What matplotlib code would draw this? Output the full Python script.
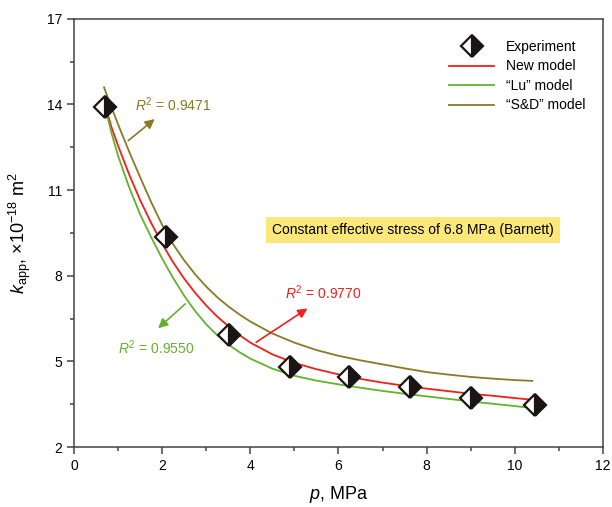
import matplotlib.pyplot as plt

plt.rcParams['font.family'] = ['Liberation Sans', 'DejaVu Sans']
plt.rcParams['mathtext.fontset'] = 'custom'
plt.rcParams['mathtext.rm'] = 'Liberation Sans'
plt.rcParams['mathtext.it'] = 'Liberation Sans:italic'

# experiment
p_exp = [0.70, 2.09, 3.52, 4.90, 6.24, 7.62, 9.00, 10.46]
k_exp = [13.92, 9.36, 5.93, 4.80, 4.45, 4.10, 3.72, 3.47]

# model curves
p_new = [0.70, 0.85, 1.0, 1.25, 1.5, 1.75, 2.0, 2.25, 2.5, 2.75, 3.0, 3.25, 3.5, 3.75,
         4.0, 4.5, 5.0, 5.5, 6.0, 6.5, 7.0, 7.5, 8.0, 8.5, 9.0, 9.5, 10.0, 10.4]
k_new = [14.0, 13.2, 12.55, 11.55, 10.65, 9.85, 9.12, 8.47, 7.9, 7.4, 6.96, 6.57, 6.24, 5.93,
         5.66, 5.25, 4.95, 4.73, 4.55, 4.39, 4.26, 4.15, 4.05, 3.96, 3.87, 3.80, 3.72, 3.66]

p_lu = [0.70, 0.85, 1.0, 1.25, 1.5, 1.75, 2.0, 2.25, 2.5, 2.75, 3.0, 3.25, 3.5, 3.75,
        4.0, 4.5, 5.0, 5.5, 6.0, 6.5, 7.0, 7.5, 8.0, 8.5, 9.0, 9.5, 10.0, 10.4]
k_lu = [13.95, 13.0, 12.2, 11.1, 10.15, 9.35, 8.6, 7.92, 7.3, 6.76, 6.3, 5.92, 5.6, 5.33,
        5.1, 4.75, 4.5, 4.33, 4.2, 4.08, 3.97, 3.87, 3.78, 3.69, 3.6, 3.52, 3.44, 3.37]

p_sd = [0.68, 0.85, 1.0, 1.25, 1.5, 1.75, 2.0, 2.25, 2.5, 2.75, 3.0, 3.25, 3.5, 3.75,
        4.0, 4.5, 5.0, 5.5, 6.0, 6.5, 7.0, 7.5, 8.0, 8.5, 9.0, 9.5, 10.0, 10.4]
k_sd = [14.6, 13.9, 13.3, 12.35, 11.45, 10.58, 9.78, 9.1, 8.54, 8.05, 7.62, 7.25, 6.93, 6.65,
        6.4, 5.98, 5.66, 5.4, 5.2, 5.04, 4.9, 4.76, 4.63, 4.54, 4.46, 4.40, 4.35, 4.32]

y_ticks = [2, 5, 8, 11, 14, 17]
y_minor = [3.5, 6.5, 9.5, 12.5, 15.5]
x_ticks = [0, 2, 4, 6, 8, 10, 12]
x_minor = [1, 3, 5, 7, 9, 11]

c_new = '#f0201a'
c_lu = '#62b22c'
c_sd = '#8a7a26'

fig = plt.figure(figsize=(6.12, 5.07), dpi=100)
ax = fig.add_axes([0.121, 0.118, 0.864, 0.845])

ax.plot(p_new, k_new, color=c_new, lw=1.3, label='New model', zorder=2)
ax.plot(p_lu, k_lu, color=c_lu, lw=1.3, label='\u201cLu\u201d model', zorder=2)
ax.plot(p_sd, k_sd, color=c_sd, lw=1.3, label='\u201cS&D\u201d model', zorder=2)
exp_line, = ax.plot(p_exp, k_exp, ls='none', marker='D', ms=11, fillstyle='right',
                    markerfacecolor='#1a1414', markerfacecoloralt='white',
                    markeredgecolor='#1a1414', markeredgewidth=1.6,
                    label='Experiment', zorder=3)

# R^2 annotations
ax.annotate('', xy=(1.88, 13.55), xytext=(1.18, 12.67),
            arrowprops=dict(arrowstyle='-|>', color=c_sd, lw=1.2, mutation_scale=14))
ax.text(1.38, 14.0, '$R^2$ = 0.9471', color=c_sd, fontsize=10, va='center')

ax.annotate('', xy=(5.35, 6.91), xytext=(4.08, 5.62),
            arrowprops=dict(arrowstyle='-|>', color=c_new, lw=1.2, mutation_scale=14))
ax.text(4.79, 7.40, '$R^2$ = 0.9770', color=c_new, fontsize=10, va='center')

ax.annotate('', xy=(1.86, 6.10), xytext=(2.57, 7.08),
            arrowprops=dict(arrowstyle='-|>', color=c_lu, lw=1.2, mutation_scale=14))
ax.text(1.0, 5.47, '$R^2$ = 0.9550', color=c_lu, fontsize=10, va='center')

ax.text(7.69, 9.61, 'Constant effective stress of 6.8 MPa (Barnett)', fontsize=10,
        ha='center', va='center',
        bbox=dict(boxstyle='square,pad=0.45', facecolor='#fbe77a', edgecolor='none'))

ax.set_xlim(0, 12)
ax.set_ylim(2, 17)
ax.set_xticks(x_ticks)
ax.set_xticks(x_minor, minor=True)
ax.set_yticks(y_ticks)
ax.set_yticks(y_minor, minor=True)
ax.tick_params(which='both', direction='out', color='#4a4040', width=1.1,
               labelsize=10, top=False, right=False)
ax.tick_params(which='major', length=5)
ax.tick_params(which='minor', length=3)
for s in ax.spines.values():
    s.set_color('#4a4040')
    s.set_linewidth(1.1)

ax.set_xlabel('$p$, MPa', fontsize=13, labelpad=8)
ax.set_ylabel('$k_{\\mathrm{app}}$, \u00d710$^{\u221218}$ m$^2$', fontsize=13, labelpad=10)

handles = [exp_line] + ax.get_lines()[:3]
ax.legend(handles=handles, loc='upper right', frameon=False, fontsize=10,
          handlelength=3.3, bbox_to_anchor=(0.99, 0.98), labelspacing=0.4)

plt.savefig('out.png', dpi=100)
